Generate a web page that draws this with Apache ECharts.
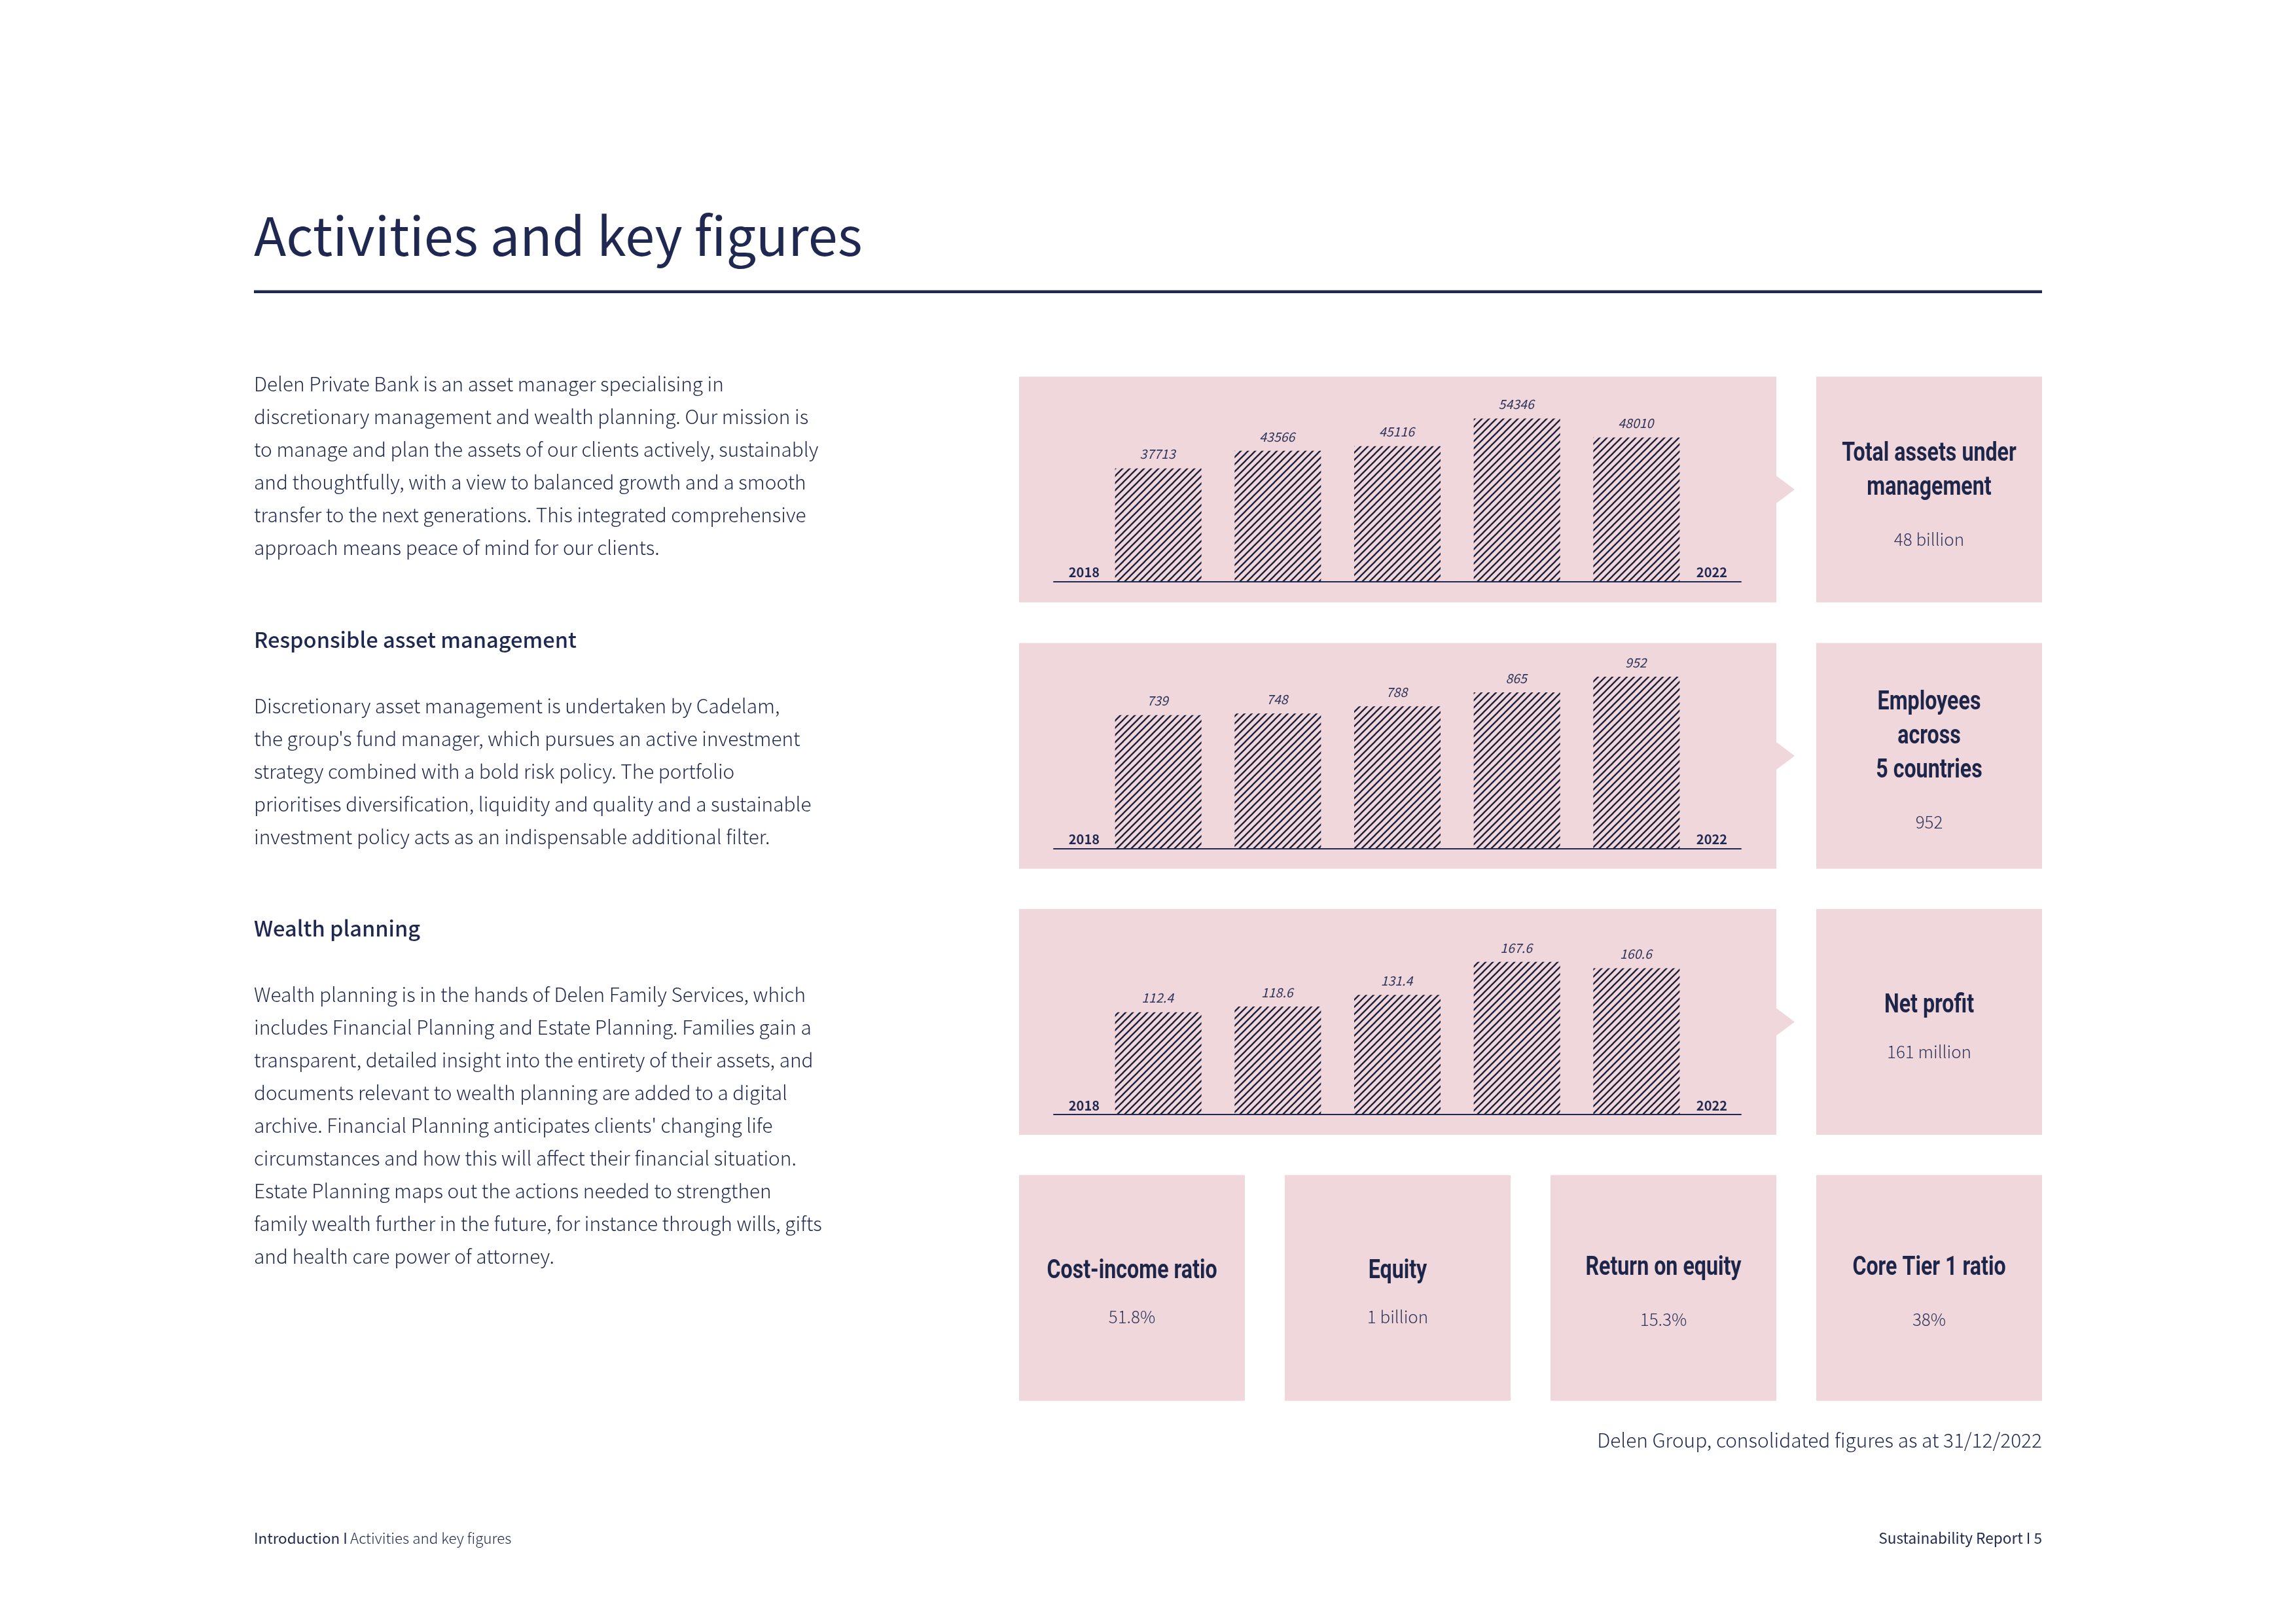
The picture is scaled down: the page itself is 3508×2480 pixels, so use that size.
<!DOCTYPE html>
<html>
<head>
<meta charset="utf-8">
<title>Activities and key figures</title>
<script src="https://cdn.jsdelivr.net/npm/echarts@6/dist/echarts.min.js"></script>
<style>html,body{margin:0;background:#fff}#main{width:3508px;height:2480px}</style>
</head>
<body>
<div id="main"></div>
<script>
// values
var years = [2018, 2019, 2020, 2021, 2022];
var yearTicks = ['2018', '2022'];
var assets = [37713, 43566, 45116, 54346, 48010];
var employees = [739, 748, 788, 865, 952];
var profit = [112.4, 118.6, 131.4, 167.6, 160.6];

var intro = [
  'Delen Private Bank is an asset manager specialising in',
  'discretionary management and wealth planning. Our mission is',
  'to manage and plan the assets of our clients actively, sustainably',
  'and thoughtfully, with a view to balanced growth and a smooth',
  'transfer to the next generations. This integrated comprehensive',
  'approach means peace of mind for our clients.'
];
var assetMgmt = [
  'Discretionary asset management is undertaken by Cadelam,',
  "the group's fund manager, which pursues an active investment",
  'strategy combined with a bold risk policy. The portfolio',
  'prioritises diversification, liquidity and quality and a sustainable',
  'investment policy acts as an indispensable additional filter.'
];
var wealth = [
  'Wealth planning is in the hands of Delen Family Services, which',
  'includes Financial Planning and Estate Planning. Families gain a',
  'transparent, detailed insight into the entirety of their assets, and',
  'documents relevant to wealth planning are added to a digital',
  "archive. Financial Planning anticipates clients' changing life",
  'circumstances and how this will affect their financial situation.',
  'Estate Planning maps out the actions needed to strengthen',
  'family wealth further in the future, for instance through wills, gifts',
  'and health care power of attorney.'
];

var NAVY = '#1f2850', PINK = '#f0d7dc', STRIPE = '#1b1f38', SOFT = '#2e3459';
var SANS = '"Noto Sans CJK SC", "Noto Sans", sans-serif';
var HEAD = 'Roboto, "Liberation Sans", sans-serif';

// diagonal hatch tile for the bars
function hatch() {
  var s = 11, c = document.createElement('canvas');
  c.width = c.height = s;
  var g = c.getContext('2d');
  g.fillStyle = PINK;
  g.fillRect(0, 0, s, s);
  g.strokeStyle = STRIPE;
  g.lineWidth = 2.3;
  [[-s, s, s, -s], [0, s, s, 0], [0, 2 * s, 2 * s, 0]].forEach(function (p) {
    g.beginPath(); g.moveTo(p[0], p[1]); g.lineTo(p[2], p[3]); g.stroke();
  });
  return c;
}
var tile = hatch();

var graphics = [];
function rect(x, y, w, h) {
  graphics.push({type: 'rect', silent: true, z: -10, shape: {x: x, y: y, width: w, height: h}, style: {fill: PINK}});
}
function arrow(x, y) {
  graphics.push({type: 'polygon', silent: true, z: -10, shape: {points: [[x, y - 21], [x + 28, y], [x, y + 21]]}, style: {fill: PINK}});
}
// y is the baseline of the text
function text(t, x, y, size, weight, align, color, font, sx) {
  graphics.push({type: 'text', silent: true, x: x, y: y - 0.38 * size, scaleX: sx || 1, style: {
    text: t, fontSize: size, fontWeight: weight, fontFamily: font || SANS,
    fill: color || NAVY, align: align || 'left', verticalAlign: 'middle'
  }});
}
function lines(arr, x, y, size) {
  arr.forEach(function (t, i) { text(t, x, y + i * 50, size, 300); });
}

// header
text('Activities and key figures', 388, 390.5, 81, 400);
graphics.push({type: 'rect', silent: true, shape: {x: 388, y: 443.5, width: 2732, height: 4.5}, style: {fill: NAVY}});

// left column
lines(intro, 388, 598, 29.8);
text('Responsible asset management', 388, 990, 32.6, 500);
lines(assetMgmt, 388, 1090, 29.8);
text('Wealth planning', 388, 1431, 32.6, 500);
lines(wealth, 388, 1531, 29.8);

// boxes
var rows = [575.5, 982.5, 1389, 1795.5];
rows.slice(0, 3).forEach(function (y) {
  rect(1557, y, 1157, 345);
  rect(2775, y, 345, 345);
  arrow(2714, y + 172.5);
});
[1557, 1963, 2369, 2775].forEach(function (x) { rect(x, rows[3], 345, 345); });

// box captions
function caption(titleLines, value, cx, y, valueY) {
  titleLines.forEach(function (t, i) { text(t, cx, y + i * 52, 41, 700, 'center', '#1d2548', HEAD, 0.785); });
  text(value, cx, valueY, 26, 300, 'center', SOFT);
}
caption(['Total assets under', 'management'], '48 billion', 2947.5, 709, 834);
caption(['Employees', 'across', '5 countries'], '952', 2947.5, 1089, 1266);
caption(['Net profit'], '161 million', 2947.5, 1552, 1617);
caption(['Cost-income ratio'], '51.8%', 1729.5, 1958, 2022);
caption(['Equity'], '1 billion', 2135.5, 1958, 2022);
caption(['Return on equity'], '15.3%', 2541.5, 1953, 2026);
caption(['Core Tier 1 ratio'], '38%', 2947.5, 1953, 2026);

// footer
text('Delen Group, consolidated figures as at 31/12/2022', 3120, 2212, 29.8, 300, 'right');
text('Introduction I', 388, 2359, 22.4, 400);
text('Activities and key figures', 535, 2359, 22.4, 300);
text('Sustainability Report I 5', 3120, 2359, 22.6, 400, 'right');

// one grid per chart, value x axis so the baseline runs past the bars
var xMin = 2017.126, xMax = 2022.874;
var grids = [], xAxes = [], yAxes = [], series = [];
function addChart(i, values, yMax, top) {
  grids.push({left: 1610, width: 1050, top: top, height: 313});
  xAxes.push({
    gridIndex: i, type: 'value', min: xMin, max: xMax, z: 5, splitLine: {show: false}, axisTick: {show: false},
    axisLine: {show: true, onZero: false, lineStyle: {color: NAVY, width: 2}},
    axisLabel: {
      inside: true, customValues: [2017.38, 2022.63], margin: 4,
      formatter: function (v) { return v < 2020 ? yearTicks[0] : yearTicks[1]; },
      fontFamily: SANS, fontWeight: 700, fontSize: 20, color: NAVY
    }
  });
  yAxes.push({gridIndex: i, type: 'value', min: 0, max: yMax, show: false});
  series.push({
    type: 'bar', xAxisIndex: i, yAxisIndex: i, barWidth: 132,
    data: years.map(function (y, k) { return [y, values[k]]; }),
    itemStyle: {color: {image: tile, repeat: 'repeat'}},
    label: {
      show: true, position: 'top', distance: 12, offset: [-1, 0], fontFamily: SANS, fontStyle: 'italic', fontWeight: 400,
      fontSize: 19.5, color: SOFT,
      formatter: function (p) { return String(p.value[1]); }
    },
    silent: true, animation: false
  });
}
addChart(0, assets, 68300, 575.5);
addChart(1, employees, 1135, 983.5);
addChart(2, profit, 225, 1390);

var chart = echarts.init(document.getElementById('main'));
chart.setOption({
  animation: false,
  backgroundColor: '#fff',
  grid: grids, xAxis: xAxes, yAxis: yAxes, series: series,
  graphic: {elements: graphics}
});
</script>
</body>
</html>
